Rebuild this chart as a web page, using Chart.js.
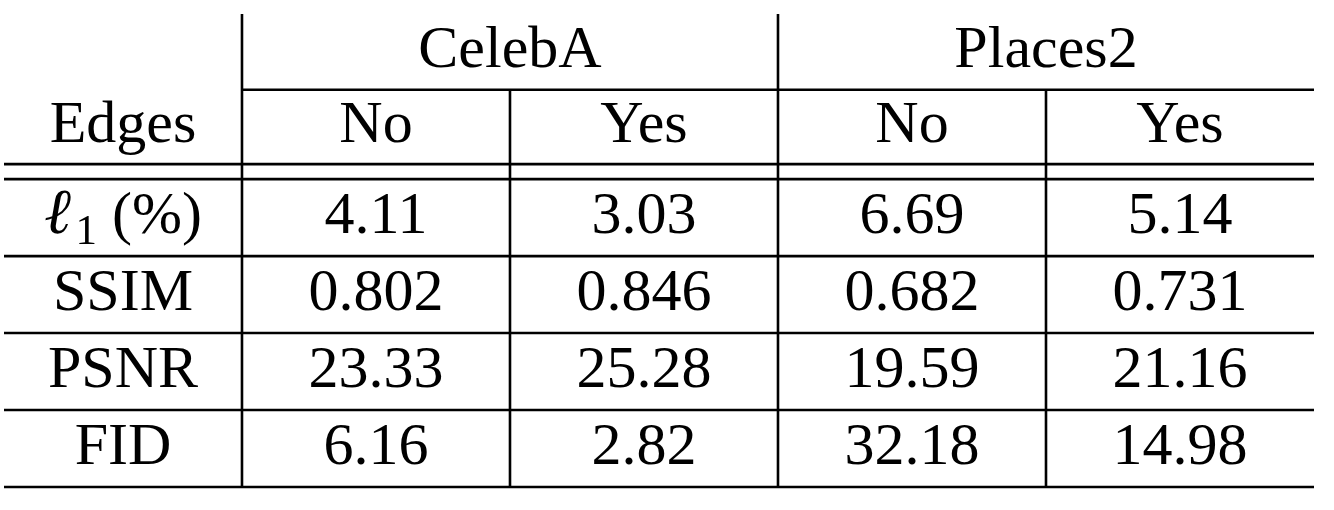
<!DOCTYPE html>
<html>
<head>
<meta charset="utf-8">
<script src="https://cdn.jsdelivr.net/npm/chart.js@4.4.0/dist/chart.umd.min.js"></script>
<style>
  html, body { margin: 0; padding: 0; background: #fff; }
  #wrap { width: 1334px; height: 510px; position: relative; }
</style>
</head>
<body>
<div id="wrap"><canvas id="table"></canvas></div>
<script>
// table content
const groupLabels = ['CelebA', 'Places2']
const edgeLabels = ['No', 'Yes']
const cornerLabel = 'Edges'
const rowLabels = ['ℓ1 (%)', 'SSIM', 'PSNR', 'FID']
const decimals = [2, 3, 2, 2]
const celebaNo = [4.11, 0.802, 23.33, 6.16]
const celebaYes = [3.03, 0.846, 25.28, 2.82]
const places2No = [6.69, 0.682, 19.59, 32.18]
const places2Yes = [5.14, 0.731, 21.16, 14.98]

const columns = [celebaNo, celebaYes, places2No, places2Yes]

// grid in scale units: label column is narrower than the value columns
const labelColWidth = 0.888
const headerBounds = [0, 0.985, 1.95]
const bodyTop = 2.145
const rowSpan = 1

const FONT = '"Liberation Serif", "Times New Roman", serif'
const SIZE = 60
const INK = '#000'

const rowCenter = i => bodyTop + rowSpan * (i + 0.5)

const tableData = {
  datasets: columns.map((col, c) => ({
    label: groupLabels[Math.floor(c / 2)] + ' ' + edgeLabels[c % 2],
    data: col.map((v, i) => ({ x: c + 0.5, y: rowCenter(i), v: v })),
    pointRadius: 0,
    showLine: false
  }))
}

function drawLabel (ctx, text, x, y) {
  // renders ℓ1 with a subscript 1, everything else as plain text
  if (text.startsWith('ℓ1')) {
    const rest = text.slice(2)
    const ellFont = 'italic ' + (SIZE + 4) + 'px ' + FONT
    const subFont = Math.round(SIZE * 0.72) + 'px ' + FONT
    ctx.font = ellFont
    const w1 = ctx.measureText('ℓ').width + 5
    ctx.font = subFont
    const w2 = ctx.measureText('1').width
    ctx.font = SIZE + 'px ' + FONT
    const w3 = ctx.measureText(rest).width
    let left = x - (w1 + w2 + w3) / 2
    ctx.textAlign = 'left'
    ctx.font = ellFont
    ctx.fillText('ℓ', left, y)
    left += w1
    ctx.font = subFont
    ctx.fillText('1', left, y + 11)
    left += w2
    ctx.font = SIZE + 'px ' + FONT
    ctx.fillText(rest, left, y)
    ctx.textAlign = 'center'
    return
  }
  ctx.fillText(text, x, y)
}

const tablePlugin = {
  id: 'tablePlugin',
  afterDatasetsDraw (chart) {
    const ctx = chart.ctx
    const xs = chart.scales.x
    const ys = chart.scales.y
    const X = v => xs.getPixelForValue(v)
    const Y = v => ys.getPixelForValue(v)
    const left = xs.min
    const right = xs.max
    const bottom = ys.max
    const baseShift = 15

    ctx.save()
    ctx.strokeStyle = INK
    ctx.lineWidth = 2.6
    ctx.lineCap = 'butt'
    const line = (x1, y1, x2, y2) => {
      ctx.beginPath()
      ctx.moveTo(X(x1), Y(y1))
      ctx.lineTo(X(x2), Y(y2))
      ctx.stroke()
    }

    // horizontal rules
    line(0, headerBounds[1], right, headerBounds[1])
    line(left, headerBounds[2], right, headerBounds[2])
    for (let i = 0; i <= rowLabels.length; i++) {
      const y = bodyTop + i * rowSpan
      line(left, y, right, y)
    }
    // vertical rules
    groupLabels.forEach((g, k) => {
      line(k * 2, 0, k * 2, bottom)
      line(k * 2 + 1, headerBounds[1], k * 2 + 1, bottom)
    })

    // header text
    ctx.fillStyle = INK
    ctx.textAlign = 'center'
    ctx.textBaseline = 'alphabetic'
    ctx.font = SIZE + 'px ' + FONT
    const h0 = (headerBounds[0] + headerBounds[1]) / 2
    const h1 = (headerBounds[1] + headerBounds[2]) / 2
    groupLabels.forEach((g, k) => {
      ctx.fillText(g, X(k * 2 + 1), Y(h0) + baseShift)
      edgeLabels.forEach((e, j) => {
        ctx.fillText(e, X(k * 2 + j + 0.5), Y(h1) + baseShift)
      })
    })
    ctx.fillText(cornerLabel, X(-labelColWidth / 2), Y(h1) + baseShift)

    // row labels
    rowLabels.forEach((r, i) => {
      ctx.font = SIZE + 'px ' + FONT
      drawLabel(ctx, r, X(-labelColWidth / 2), Y(rowCenter(i)) + baseShift)
    })

    // value cells, placed by the dataset elements
    ctx.font = SIZE + 'px ' + FONT
    chart.data.datasets.forEach((ds, d) => {
      const meta = chart.getDatasetMeta(d)
      meta.data.forEach((pt, i) => {
        const raw = ds.data[i].v
        ctx.fillText(raw.toFixed(decimals[i]), pt.x, pt.y + baseShift)
      })
    })
    ctx.restore()
  }
}

new Chart(document.getElementById('table').getContext('2d'), {
  type: 'scatter',
  data: tableData,
  plugins: [tablePlugin],
  options: {
    responsive: true,
    maintainAspectRatio: false,
    animation: false,
    events: [],
    layout: { padding: { top: 14, left: 4, right: 20, bottom: 23 } },
    plugins: {
      legend: { display: false },
      tooltip: { enabled: false }
    },
    scales: {
      x: { type: 'linear', display: false, min: -labelColWidth, max: 4 },
      y: { type: 'linear', display: false, min: 0, max: bodyTop + rowSpan * rowLabels.length, reverse: true }
    }
  }
})
</script>
</body>
</html>
